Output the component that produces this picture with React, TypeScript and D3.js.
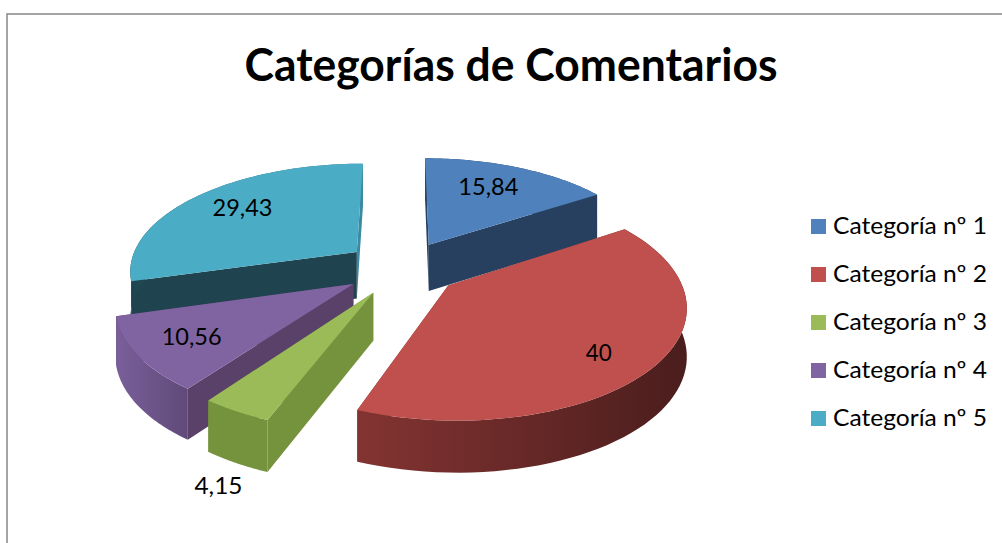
import React from 'react';
import * as d3 from 'd3';

const categories = ['Categoría nº 1', 'Categoría nº 2', 'Categoría nº 3', 'Categoría nº 4', 'Categoría nº 5'];
const values = [15.84, 40, 4.15, 10.56, 29.43];
const valueLabels = ['15,84', '40', '4,15', '10,56', '29,43'];

const topColors = ['#4f81bd', '#c0504d', '#9bbb59', '#8064a2', '#4bacc6'];
const startWallColors = ['#27405f', '#7f3230', '#75923c', '#5a4169', '#1f444f'];
const endWallColors = ['#27405f', '#7f3230', '#75923c', '#5a4169', '#3a8aa3'];
const rimLeftColors = ['#27405f', '#833432', '#75923c', '#7a5f9a', '#1f444f'];
const rimRightColors = ['#27405f', '#4b1d1d', '#75923c', '#5f4a78', '#3a8aa3'];

// where each value label sits: fraction of the radius and turn off the slice's middle (degrees)
const labelFrac = [0.72, 0.78, 1.39, 0.76, 0.74];
const labelTurn = [-3, 4, -8, 1, 3];

// back to front, so nearer slices cover the walls behind them
const drawOrder = [4, 0, 3, 2, 1];

const width = 1002;
const height = 543;
const cx = 402;
const cy = 268;
const R = 228;
const explode = 58;
const depth = 47;
const tilt = 0.47;
const persp = 0.0007;

const project = (X: number, Y: number, down = false): [number, number] => {
    const s = 1 / (1 + Y * persp);
    const drop = down ? depth * Math.sqrt(s) : 0;
    return [cx + s * X, cy - s * Y * tilt + drop];
};

const pieAngles = d3.pie<number>().sort(null)(values);
const line = d3.line();

const sliceShapes = pieAngles.map((p, i) => {
    const mid = (p.startAngle + p.endAngle) / 2;
    const ox = explode * Math.sin(mid);
    const oy = explode * Math.cos(mid);
    const steps = d3.range(0, 61).map((k) => p.startAngle + (p.endAngle - p.startAngle) * k / 60);
    const rim = (down: boolean) => steps.map((a) => project(ox + R * Math.sin(a), oy + R * Math.cos(a), down));
    const apex = project(ox, oy);
    const apexLow = project(ox, oy, true);
    const rimTop = rim(false);
    const rimLow = rim(true);
    const la = mid + labelTurn[i] * Math.PI / 180;
    const lr = labelFrac[i] * R;
    return {
        top: line([apex, ...rimTop]) + 'Z',
        startWall: line([apex, rimTop[0], rimLow[0], apexLow]) + 'Z',
        endWall: line([apex, rimTop[60], rimLow[60], apexLow]) + 'Z',
        rimWall: line([...rimTop, ...rimLow.slice().reverse()]) + 'Z',
        rimX: d3.extent(rimTop, (d) => d[0]) as [number, number],
        label: project(ox + lr * Math.sin(la), oy + lr * Math.cos(la)),
    };
});

const legendY = d3.scalePoint<string>().domain(categories).range([226.5, 418.5]);
const labelWidth = (t: string) => (t.length === 5 ? 60 : t.length === 4 ? 48 : 26);

export default function App() {
    return (
        <svg
            width={width}
            height={height}
            style={{ position: 'absolute', left: 0, top: 0, background: '#fff' }}
            fontFamily="Lato, Carlito, sans-serif"
        >
            <defs>
                {sliceShapes.map((s, i) => (
                    <linearGradient key={i} id={`rim${i}`} gradientUnits="userSpaceOnUse" x1={s.rimX[0]} x2={s.rimX[1]} y1={0} y2={0}>
                        <stop offset="0%" stopColor={rimLeftColors[i]} />
                        <stop offset="100%" stopColor={rimRightColors[i]} />
                    </linearGradient>
                ))}
            </defs>

            <rect x={7} y={14} width={1100} height={700} fill="#fff" stroke="#868686" strokeWidth={1.5} />

            <text x={511} y={81} textAnchor="middle" fontSize={45} fontWeight={700} fill="#000" textLength={533} lengthAdjust="spacingAndGlyphs">
                Categorías de Comentarios
            </text>

            {drawOrder.map((i) => {
                const s = sliceShapes[i];
                return (
                    <g key={i}>
                        <path d={s.endWall} fill={endWallColors[i]} />
                        <path d={s.startWall} fill={startWallColors[i]} />
                        <path d={s.rimWall} fill={`url(#rim${i})`} />
                        <path d={s.top} fill={topColors[i]} />
                    </g>
                );
            })}

            {sliceShapes.map((s, i) => (
                <text key={i} x={s.label[0]} y={s.label[1]} textAnchor="middle" dominantBaseline="central" fontSize={24} fill="#000" textLength={labelWidth(valueLabels[i])} lengthAdjust="spacingAndGlyphs">
                    {valueLabels[i]}
                </text>
            ))}

            {categories.map((c, i) => (
                <g key={c}>
                    <rect x={811} y={(legendY(c) as number) - 7.5} width={15} height={15} fill={topColors[i]} />
                    <text x={833} y={(legendY(c) as number) + 7} fontSize={24} fill="#000" textLength={154} lengthAdjust="spacingAndGlyphs">
                        {c}
                    </text>
                </g>
            ))}
        </svg>
    );
}
